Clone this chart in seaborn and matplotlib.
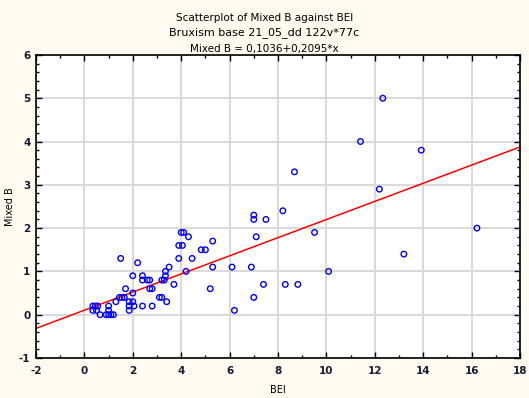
import numpy as np
import pandas as pd
import matplotlib
matplotlib.use("Agg")
import matplotlib.pyplot as plt
import seaborn as sns
from matplotlib.ticker import MultipleLocator

# values
bei = [12.33, 11.41, 13.92, 8.68, 12.19, 8.2, 9.51, 13.2, 10.09, 8.3, 8.82, 16.22,
       7.0, 7.0, 7.5, 5.3, 4.83, 5.0, 7.1, 5.3, 6.1, 6.9, 5.2, 7.4, 7.0, 6.2,
       4.0, 4.1, 4.3, 3.9, 4.05, 3.9, 4.45, 3.5, 3.35, 3.35, 4.2, 3.2, 3.3,
       2.4, 2.4, 2.7, 3.7, 2.7, 2.8, 3.1, 3.2, 3.4, 2.4, 2.8, 2.2, 1.5, 2.0,
       1.7, 2.0, 1.45, 1.55, 1.65, 1.3, 1.85, 2.0, 2.05, 1.85, 0.35, 0.45,
       0.55, 0.35, 0.5, 1.0, 1.0, 0.65, 0.9, 1.0, 1.1, 1.2, 1.85, 2.6]
mixed_b = [5.0, 4.0, 3.8, 3.3, 2.9, 2.4, 1.9, 1.4, 1.0, 0.7, 0.7, 2.0,
           2.3, 2.2, 2.2, 1.7, 1.5, 1.5, 1.8, 1.1, 1.1, 1.1, 0.6, 0.7, 0.4, 0.1,
           1.9, 1.9, 1.8, 1.6, 1.6, 1.3, 1.3, 1.1, 1.0, 0.9, 1.0, 0.8, 0.8,
           0.9, 0.8, 0.8, 0.7, 0.6, 0.6, 0.4, 0.4, 0.3, 0.2, 0.2, 1.2, 1.3, 0.9,
           0.6, 0.5, 0.4, 0.4, 0.4, 0.3, 0.3, 0.3, 0.2, 0.1, 0.2, 0.2,
           0.2, 0.1, 0.1, 0.2, 0.1, 0.0, 0.0, 0.0, 0.0, 0.0, 0.2, 0.8]

# fitted line from the chart subtitle
intercept = 0.1036
slope = 0.2095

x_ticks = [-2, 0, 2, 4, 6, 8, 10, 12, 14, 16, 18]
y_ticks = [-1, 0, 1, 2, 3, 4, 5, 6]

bg = "#fffbf0"

sns.set_theme(style="white")
plt.rcParams["font.family"] = ["DejaVu Sans"]
plt.rcParams["axes.unicode_minus"] = False
plt.rcParams["text.color"] = "black"
plt.rcParams["axes.labelcolor"] = "black"

data = pd.DataFrame({"BEI": bei, "Mixed B": mixed_b})

fig = plt.figure(figsize=(5.29, 3.98), dpi=100, facecolor=bg)
ax = fig.add_axes([0.068, 0.1005, 0.915, 0.7615])
ax.set_facecolor("white")

# regression line
line_x = np.array([x_ticks[0], x_ticks[-1]])
line = pd.DataFrame({"x": line_x, "y": intercept + slope * line_x})
sns.lineplot(data=line, x="x", y="y", color="red", linewidth=1.1, ax=ax, zorder=2)

pts = sns.scatterplot(data=data, x="BEI", y="Mixed B", marker="o", s=16, ax=ax, zorder=3)
pts.collections[-1].set_facecolor("none")
pts.collections[-1].set_edgecolor("blue")
pts.collections[-1].set_linewidth(1.0)

ax.set_xlim(x_ticks[0], x_ticks[-1])
ax.set_ylim(y_ticks[0], y_ticks[-1])
ax.set_xticks(x_ticks)
ax.set_yticks(y_ticks)
ax.xaxis.set_minor_locator(MultipleLocator(1))
ax.yaxis.set_minor_locator(MultipleLocator(0.2))
ax.grid(True, which="major", color="#d9d9d9", linewidth=1.4)
ax.set_axisbelow(True)

ax.tick_params(which="both", direction="in", top=True, right=True, bottom=True, left=True,
               colors="black", labelsize=7.5)
ax.tick_params(axis="x", pad=6)
ax.tick_params(axis="y", pad=4)
ax.tick_params(which="major", length=4, width=1)
ax.tick_params(which="minor", length=2.5, width=1)
for lab in ax.get_xticklabels() + ax.get_yticklabels():
    lab.set_fontweight("bold")
    lab.set_color("#1a1a33")

for s in ax.spines.values():
    s.set_color("black")
    s.set_linewidth(1.2)

ax.set_xlabel("BEI", fontsize=7, labelpad=6)
ax.set_ylabel("Mixed B", fontsize=7, labelpad=3)

fig.text(0.5, 0.955, "Scatterplot of Mixed B against BEI", ha="center", va="center", fontsize=7.5)
fig.text(0.5, 0.918, "Bruxism base 21_05_dd 122v*77c", ha="center", va="center", fontsize=8)
fig.text(0.5, 0.878, "Mixed B = 0,1036+0,2095*x", ha="center", va="center", fontsize=7.5)

fig.savefig("out.png", dpi=100, facecolor=bg)
